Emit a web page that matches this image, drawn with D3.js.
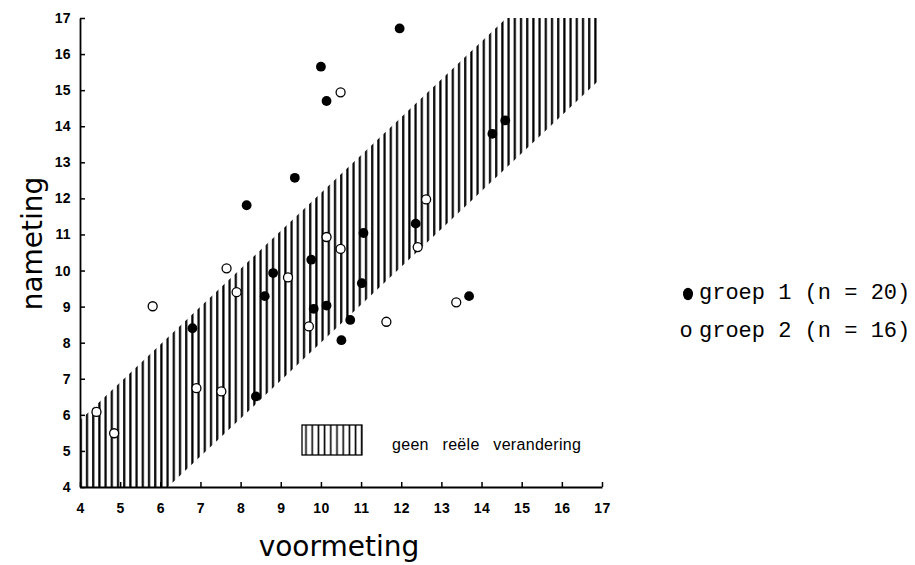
<!DOCTYPE html>
<html>
<head>
<meta charset="utf-8">
<script src="https://cdn.jsdelivr.net/npm/d3@7/dist/d3.min.js"></script>
<style>
  html, body { margin: 0; padding: 0; background: #fff; }
  svg { display: block; }
  .tick text { font-family: "Liberation Sans", Arial, sans-serif; font-weight: bold; font-size: 14px; fill: #000; letter-spacing: 0.4px; }
</style>
</head>
<body>
<svg id="chart" width="915" height="565"></svg>
<script>
// voormeting (x) and nameting (y) per pupil
const groep1 = [
  [10.00, 15.65], [10.14, 14.70], [9.35, 12.57], [8.15, 11.81], [11.96, 16.71],
  [14.27, 13.79], [14.59, 14.16], [12.36, 11.30], [11.06, 11.04], [9.76, 10.30],
  [8.81, 9.93], [8.60, 9.29], [9.82, 8.94], [10.14, 9.03], [6.80, 8.40],
  [10.73, 8.63], [10.51, 8.07], [8.38, 6.51], [11.02, 9.65], [13.69, 9.29]
];
const groep2 = [
  [10.49, 14.94], [10.14, 10.93], [10.49, 10.60], [12.62, 11.97], [12.41, 10.65],
  [7.65, 10.06], [9.18, 9.81], [7.90, 9.40], [5.81, 9.01], [9.70, 8.45],
  [6.90, 6.74], [7.52, 6.65], [4.41, 6.08], [4.85, 5.49], [11.63, 8.58],
  [13.37, 9.12]
];

// band of "no real change": outline of the hatched region
const bandOutline = [
  [4, 4], [4, 5.85], [14.62, 17], [16.95, 17], [16.95, 15.30], [6.19, 4]
];

const xTickValues = [4, 5, 6, 7, 8, 9, 10, 11, 12, 13, 14, 15, 16, 17];
const yTickValues = [4, 5, 6, 7, 8, 9, 10, 11, 12, 13, 14, 15, 16, 17];

const xTitle = "voormeting";
const yTitle = "nameting";
const bandLabel = "geen reële verandering";
const legendItems = [
  { label: "groep 1 (n = 20)", filled: true },
  { label: "groep 2 (n = 16)", filled: false }
];

const svg = d3.select("#chart");
const plot = { left: 80, right: 602, top: 18, bottom: 487 };

const x = d3.scaleLinear().domain([4, 17]).range([plot.left, plot.right]);
const y = d3.scaleLinear().domain([4, 17]).range([plot.bottom, plot.top]);

// vertical hatching
const defs = svg.append("defs");
const hatch = defs.append("pattern")
  .attr("id", "hatch")
  .attr("patternUnits", "userSpaceOnUse")
  .attr("x", 84).attr("y", 0)
  .attr("width", 6.2).attr("height", 20);
hatch.append("rect").attr("width", 6.2).attr("height", 20).attr("fill", "#fff");
hatch.append("line")
  .attr("x1", 3).attr("x2", 3).attr("y1", -1).attr("y2", 21)
  .attr("stroke", "#000").attr("stroke-width", 2.2);

const hatchKey = defs.append("pattern")
  .attr("id", "hatchKey")
  .attr("patternUnits", "userSpaceOnUse")
  .attr("x", 302).attr("y", 0)
  .attr("width", 6.2).attr("height", 20);
hatchKey.append("rect").attr("width", 6.2).attr("height", 20).attr("fill", "#fff");
hatchKey.append("line")
  .attr("x1", 4).attr("x2", 4).attr("y1", -1).attr("y2", 21)
  .attr("stroke", "#000").attr("stroke-width", 1.6);

svg.append("path")
  .datum(bandOutline)
  .attr("d", d3.line().x(d => x(d[0])).y(d => y(d[1])).curve(d3.curveLinearClosed))
  .attr("fill", "url(#hatch)")
  .attr("stroke", "none");

// axes with inward ticks
const xAxis = d3.axisBottom(x).tickValues(xTickValues).tickFormat(d3.format("d"))
  .tickSizeInner(-5).tickSizeOuter(0).tickPadding(16);
const yAxis = d3.axisLeft(y).tickValues(yTickValues).tickFormat(d3.format("d"))
  .tickSizeInner(-5).tickSizeOuter(0).tickPadding(9);

const gx = svg.append("g").attr("transform", `translate(0,${plot.bottom})`).call(xAxis);
const gy = svg.append("g").attr("transform", `translate(${plot.left},0)`).call(yAxis);
[gx, gy].forEach(g => {
  g.select(".domain").attr("stroke", "#000").attr("stroke-width", 1.8);
  g.selectAll(".tick line").attr("stroke", "#000").attr("stroke-width", 1.5);
});
gx.selectAll(".tick text").attr("dy", "0.71em");

// axis titles
svg.append("text")
  .attr("x", (plot.left + plot.right) / 2 - 2)
  .attr("y", 556)
  .attr("text-anchor", "middle")
  .attr("font-family", "DejaVu Sans, sans-serif")
  .attr("font-size", 28)
  .text(xTitle);

svg.append("text")
  .attr("transform", `translate(42,${(plot.top + plot.bottom) / 2 - 9}) rotate(-90)`)
  .attr("text-anchor", "middle")
  .attr("font-family", "DejaVu Sans, sans-serif")
  .attr("font-size", 28)
  .text(yTitle);

// points
svg.append("g").selectAll("circle")
  .data(groep2)
  .join("circle")
  .attr("cx", d => x(d[0])).attr("cy", d => y(d[1]))
  .attr("r", 4.5)
  .attr("fill", "#fff").attr("stroke", "#000").attr("stroke-width", 1.3);

svg.append("g").selectAll("circle")
  .data(groep1)
  .join("circle")
  .attr("cx", d => x(d[0])).attr("cy", d => y(d[1]))
  .attr("r", 4.9)
  .attr("fill", "#000");

// key for the hatched band
svg.append("rect")
  .attr("x", 302).attr("y", 425).attr("width", 60).attr("height", 30)
  .attr("fill", "url(#hatchKey)")
  .attr("stroke", "#000").attr("stroke-width", 1.3);
svg.append("text")
  .attr("x", 392).attr("y", 450)
  .attr("font-family", "Liberation Sans, Arial, sans-serif")
  .attr("font-size", 16)
  .attr("letter-spacing", 0.3)
  .attr("word-spacing", 9)
  .text(bandLabel);

// group legend
const leg = svg.append("g");
legendItems.forEach((item, i) => {
  const cy = 294 + i * 38;
  if (item.filled) {
    leg.append("ellipse").attr("cx", 688).attr("cy", cy).attr("rx", 5).attr("ry", 6.2).attr("fill", "#000");
  } else {
    leg.append("text")
      .attr("x", 686).attr("y", cy + 5)
      .attr("text-anchor", "middle")
      .attr("font-family", "Liberation Mono, monospace")
      .attr("font-size", 22)
      .text("o");
  }
  leg.append("text")
    .attr("x", 699).attr("y", cy + 5)
    .attr("font-family", "Liberation Mono, monospace")
    .attr("font-size", 22)
    .text(item.label);
});
</script>
</body>
</html>
